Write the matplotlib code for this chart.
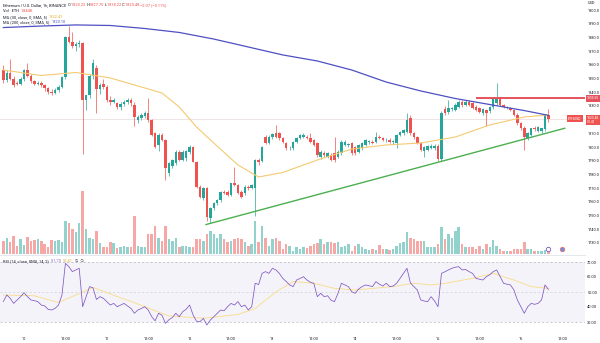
import numpy as np
import pandas as pd
import matplotlib
matplotlib.use('Agg')
import matplotlib.pyplot as plt
import matplotlib.dates as mdates

plt.rcParams['font.family'] = ['Roboto', 'DejaVu Sans']

# ETHUSD (Binance) 1h candles, 9 May 18:00 -> 16 May 08:00 2023
times = pd.date_range('2023-05-09 18:00', periods=159, freq='h')

opens = [
    1856, 1849, 1854, 1850, 1847, 1846, 1849.5, 1856, 1852, 1848,
    1846, 1846.8, 1845, 1842.8, 1840.5, 1839.5, 1841.6, 1844, 1851, 1880,
    1877, 1873.5, 1875, 1876, 1834.3, 1838, 1852, 1858, 1842, 1846,
    1844, 1834.3, 1833, 1831.9, 1829.4, 1831.5, 1833, 1834.3, 1831,
    1819.7, 1821.5, 1822.5, 1824.6, 1819.7, 1810, 1801.5, 1808.8, 1805.1, 1781,
    1786, 1788, 1796.6, 1790.5, 1792, 1796.6, 1800.2, 1789.3, 1771.1, 1762.5,
    1769.8, 1747.9, 1755.2, 1758.9, 1761.3, 1767.4, 1767.4, 1765, 1773.5, 1772.3,
    1767.4, 1766.2, 1771.1, 1770, 1770, 1790.5, 1790, 1807, 1803, 1807,
    1810, 1810, 1806.3, 1802.7, 1799, 1799, 1803.9, 1806.3, 1807.5, 1807.5,
    1806.3, 1805.1, 1802.7, 1792.9, 1795.4, 1792.9, 1794.2, 1795.4, 1792.9, 1795.4,
    1801.5, 1801.5, 1802.7, 1800.2, 1796.6, 1799, 1801.5, 1803.9, 1803.9, 1803.9,
    1807.5, 1806.3, 1805.1, 1805.1, 1803.9, 1802.7, 1808.8, 1810, 1811.2, 1820.9,
    1810, 1807.5, 1803, 1797, 1798, 1799.5, 1799.5, 1800.5, 1791, 1828,
    1825.8, 1828, 1827, 1829.4, 1833.1, 1830.7, 1833.1, 1831.9, 1829.4, 1828.2,
    1824.6, 1827, 1826, 1829, 1832, 1835.5, 1830.7, 1829, 1828.2, 1827,
    1823.5, 1817.3, 1814, 1806.5, 1808.8, 1813.6, 1811.8, 1812, 1813, 1823.22,
]
highs = [
    1860, 1856, 1864, 1851.5, 1848, 1851, 1857, 1861, 1853, 1849,
    1848, 1848, 1846, 1844, 1842, 1843, 1845, 1852, 1881, 1888,
    1884, 1876.5, 1878, 1877, 1838, 1853, 1864, 1860, 1847, 1850,
    1845, 1837, 1836, 1833, 1833, 1834, 1836, 1836, 1832.5,
    1823, 1825, 1826.5, 1835.5, 1820.5, 1811, 1810, 1810.5, 1806, 1789,
    1791.5, 1797.5, 1798, 1797.5, 1798, 1801.5, 1801, 1790, 1772, 1771,
    1771, 1756.5, 1759.5, 1762, 1768, 1768.5, 1768.5, 1774, 1785.6, 1773,
    1768.5, 1772, 1772, 1773, 1791, 1792, 1801, 1809, 1809, 1810.5,
    1816, 1811, 1807.5, 1804, 1800.5, 1804.5, 1807, 1809.5, 1810, 1809,
    1810, 1806, 1803.5, 1798, 1797, 1796.5, 1795.5, 1807.5, 1797.5, 1805,
    1805, 1803, 1804, 1801, 1802, 1803.5, 1806, 1805, 1805, 1811.2,
    1809, 1807.5, 1806.5, 1806.3, 1805, 1809.5, 1812, 1813.5, 1824.6, 1823,
    1811, 1808, 1804, 1801, 1801.5, 1802, 1802, 1802, 1826, 1830,
    1834.3, 1829.5, 1832, 1834, 1834.5, 1834.5, 1834, 1833, 1830.5, 1829,
    1828.5, 1828, 1830, 1836, 1846.5, 1836.5, 1831.5, 1830, 1829, 1828,
    1825, 1818, 1815, 1811, 1814, 1815, 1815.5, 1814, 1824, 1827.70,
]
lows = [
    1847, 1847.5, 1849, 1844, 1845, 1845, 1848.5, 1851, 1847, 1845,
    1845, 1844, 1841, 1839, 1838, 1838.5, 1840, 1843, 1850, 1876,
    1872, 1870, 1873, 1795, 1827, 1836, 1850, 1824.5, 1839, 1842,
    1833, 1831, 1832, 1828, 1827, 1830, 1831.5, 1830, 1815,
    1817.5, 1820, 1821.5, 1818.5, 1808, 1799, 1797, 1804.5, 1776, 1779,
    1784.5, 1787, 1789.5, 1789.5, 1790, 1795, 1789, 1770, 1762.5, 1761.5,
    1746, 1744.3, 1754, 1757.5, 1760, 1765.5, 1764, 1764, 1771.5, 1766,
    1763, 1765, 1768.5, 1769, 1750, 1787, 1789, 1802, 1802, 1806,
    1806.5, 1805, 1803, 1798, 1797.5, 1798, 1803, 1805.5, 1806.5, 1805.5,
    1803, 1800.5, 1793, 1791.5, 1793, 1792, 1789.5, 1789, 1792, 1794.5,
    1800.5, 1800, 1794.5, 1794.5, 1795.5, 1798, 1800.5, 1802.5, 1802, 1803,
    1805.5, 1804.5, 1804, 1803, 1802.5, 1799, 1808, 1809, 1810, 1809,
    1806, 1802, 1797, 1793, 1797, 1798.5, 1798, 1790, 1790, 1823,
    1824, 1826.5, 1826, 1828.5, 1829.5, 1830, 1830, 1827.5, 1826, 1825,
    1823.5, 1815, 1824.5, 1828, 1831, 1830, 1828.5, 1827.5, 1826, 1822.5,
    1816, 1812.5, 1798, 1805, 1808, 1812, 1811, 1810.5, 1812, 1818.22,
]
closes = [
    1849, 1854, 1850, 1845, 1846, 1849.5, 1856, 1852, 1848, 1846,
    1846.8, 1845, 1842.8, 1840.5, 1839.5, 1841.6, 1844, 1851, 1880, 1877,
    1873.5, 1875, 1876, 1834.3, 1838, 1852, 1861, 1842, 1845.5, 1843.5,
    1834.3, 1833.1, 1834, 1829.4, 1831.5, 1833, 1834.3, 1831.9, 1822,
    1822.1, 1823.4, 1824.6, 1819.7, 1808.8, 1800.2, 1808.8, 1805.1, 1784.4, 1788,
    1790.5, 1796.6, 1790.5, 1796.6, 1797, 1800.2, 1789.3, 1771.1, 1763.7, 1769.8,
    1749.1, 1755.2, 1758.9, 1761.3, 1767.4, 1766.2, 1765, 1773.5, 1772.3, 1766.2,
    1763.7, 1771.1, 1769.8, 1772.3, 1790.5, 1789.3, 1800, 1803, 1807.5, 1809.5,
    1807.5, 1806.3, 1803.9, 1799, 1799.5, 1803.9, 1806.3, 1808.8, 1808.8, 1806.3,
    1803.9, 1801.5, 1794.2, 1796.6, 1794.2, 1795.4, 1790.5, 1790.5, 1796.6, 1803.9,
    1803.9, 1802, 1795.4, 1795.4, 1801.5, 1802.7, 1805.1, 1804.2, 1802.7, 1807.5,
    1806.3, 1805.1, 1805.4, 1803.9, 1804.2, 1808.8, 1811.2, 1812.4, 1819.7, 1810,
    1807.5, 1803, 1798, 1800, 1800.5, 1801, 1801, 1791, 1825, 1824.6,
    1828.2, 1828.5, 1830.7, 1833.1, 1830.7, 1833.1, 1830.7, 1828.2, 1827, 1825.8,
    1827.5, 1824.6, 1829.4, 1835.5, 1835.5, 1830.7, 1829, 1829.3, 1827, 1823.5,
    1817.3, 1813.6, 1807.5, 1810, 1813.6, 1813, 1814.4, 1813.6, 1823.22, 1820.48,
]
# volume, thousands of ETH
volumes = [
    3.6, 4.5, 3.2, 5.0, 2.3, 4.1, 2.5, 4.7, 3.6, 3.8,
    4.1, 3.5, 2.7, 1.8, 3.8, 3.6, 3.8, 3.2, 9.1, 8.5,
    6.8, 5.9, 8.6, 17.3, 6.8, 4.5, 4.1, 6.4, 2.9, 1.8,
    2.0, 3.2, 2.9, 1.6, 1.8, 2.3, 1.8, 1.8, 10.5,
    2.3, 2.0, 1.8, 5.5, 5.5, 7.7, 4.5, 3.6, 7.7, 4.1,
    3.6, 4.5, 1.8, 2.3, 2.2, 1.8, 2.0, 4.1, 4.1, 3.6,
    5.5, 6.4, 5.5, 4.5, 5.5, 4.1, 3.2, 3.6, 4.1, 4.5,
    4.1, 3.2, 2.3, 2.7, 9.1, 3.2, 7.7, 4.5, 2.3, 4.1,
    4.5, 3.6, 1.4, 2.7, 2.3, 0.9, 1.8, 1.4, 1.8, 1.6,
    2.3, 2.7, 2.9, 4.1, 2.7, 3.2, 3.2, 2.9, 3.2, 1.8,
    2.3, 2.7, 0.9, 2.3, 2.7, 1.8, 1.3, 1.1, 1.4, 1.1,
    2.5, 1.5, 1.4, 1.1, 1.4, 2.3, 2.9, 3.2, 5.9, 4.5,
    4.1, 3.5, 3.6, 3.6, 2.0, 2.0, 1.8, 2.7, 7.3, 4.1,
    5.5, 4.5, 6.4, 7.3, 2.7, 1.8, 2.0, 1.8, 1.5, 2.3,
    1.4, 2.7, 1.8, 3.8, 2.3, 1.4, 0.9, 0.9, 0.9, 1.4,
    1.5, 1.5, 3.2, 1.4, 1.3, 0.9, 0.7, 0.9, 1.1, 1.844,
]
rsi = [
    43.6, 48, 45.8, 42.4, 44.7, 46.9, 49.5, 46.9, 44.7, 44.2,
    43.6, 41.3, 40.7, 38.4, 38, 39.1, 41.3, 48, 69.1, 66.9,
    63.6, 64.7, 65.8, 40.2, 46.9, 53.6, 52.7, 45, 46.9, 45.8,
    43.6, 41.3, 42.4, 40.2, 41.3, 42.4, 40.7, 39.1, 35.8,
    38, 39, 40.2, 38, 33.6, 30.8, 35.8, 34.5, 29.1, 31.5,
    33, 35.8, 33.5, 36.9, 38.5, 41.3, 34.7, 30.5, 30.2, 32.4,
    28, 31.3, 33.5, 35.8, 38, 37.5, 40.2, 42.4, 41.3, 43.6,
    40.2, 41.3, 38, 40.2, 55.8, 55, 62.4, 63.6, 62.4, 65.8,
    64.7, 62.4, 59.1, 57, 54.7, 53.6, 58, 59, 60.2, 58,
    56.5, 55.8, 46.9, 49.1, 46.9, 47.5, 44.5, 43.6, 49.1, 55.8,
    54.7, 53.6, 50.2, 49.1, 52, 53.6, 54.7, 54.2, 53.6, 56.9,
    55.2, 54, 55.8, 53.6, 54, 55.8, 59.1, 62.4, 65.8, 56,
    53.6, 51.3, 44.7, 44, 43.6, 46.9, 44, 40.2, 62.4, 63.5,
    64.7, 65.8, 66.5, 66.9, 64.7, 65, 63.6, 62.4, 59.1, 58.5,
    58, 60.2, 61.5, 63.6, 64.7, 60.2, 55.8, 55.2, 54.7, 51.3,
    44.7, 40.2, 35.8, 40.2, 42.4, 41.8, 42.4, 44.7, 54.7, 51.73,
]

# moving averages at some candles (index into times)
ma30_at = [0, 11, 21, 31, 41, 46, 51, 56, 61, 68, 74, 81, 91, 101, 111, 121, 131, 141, 151, 158]
ma30_vals = [1856.2, 1852.2, 1854.4, 1850.4, 1843.1, 1839.4, 1829.2, 1814.6, 1802.9, 1786.9,
             1778.1, 1781.4, 1790.5, 1798.5, 1801.5, 1802.9, 1807.3, 1816.1, 1821.9, 1823.4]
ma200_at = [0, 11, 21, 31, 41, 51, 61, 71, 81, 91, 101, 111, 121, 131, 141, 151, 158]
ma200_vals = [1887.2, 1888.3, 1889.1, 1888.7, 1886.5, 1883.6, 1878.8, 1873.0, 1867.2,
              1862.8, 1856.2, 1847.4, 1840.9, 1835.4, 1831.0, 1826.6, 1823.1]
rsi_ma_at = [0, 9, 16, 21, 26, 33, 39, 48, 58, 68, 73, 79, 84, 90, 96, 102, 107, 113,
             119, 124, 128, 136, 142, 148, 153, 158]
rsi_ma_vals = [48, 47.5, 43, 48, 53, 47, 42, 34, 32.5, 35, 39, 50, 57, 55.8, 52.4, 51.3,
               52.4, 53.6, 55.8, 54.7, 55.8, 59.1, 62.4, 58, 53.6, 52.4]

# user drawings
trend_times = ['2023-05-12 04:45', '2023-05-16 12:45']
trend_prices = [1743.4, 1813.7]
level_start = '2023-05-15 11:00'
level_price = 1835.55
last_close = 1820.48

price_ticks = [1730, 1740, 1750, 1760, 1770, 1780, 1790, 1800, 1810,
               1830, 1840, 1850, 1860, 1870, 1880, 1890, 1900]
rsi_ticks = [30, 40, 50, 60, 70]
time_ticks = pd.date_range('2023-05-10', periods=14, freq='12h')
time_labels = ['10', '12:00', '11', '12:00', '12', '12:00', '13', '12:00',
               '14', '12:00', '15', '12:00', '16', '12:00']

UP = '#26a69a'
DOWN = '#ef5350'
TXT = '#131722'
FS = 2.9

W, H = 600, 343
fig = plt.figure(figsize=(6, 3.43), dpi=100)


def rect(x0, y0, x1, y1):
    return [x0 / W, 1 - y1 / H, (x1 - x0) / W, (y1 - y0) / H]


def fpos(x, y):
    return x / W, 1 - y / H


ax = fig.add_axes(rect(0, 0, 585, 254))
axr = fig.add_axes(rect(0, 256, 585, 331), sharex=ax)
axv = ax.twinx()

x = mdates.date2num(times)
o, hi, lo, c = map(np.array, (opens, highs, lows, closes))
col = np.where(c >= o, UP, DOWN)
w = 0.72 / 24

# volume behind candles
axv.bar(x, volumes, width=w, color=col, alpha=0.5, lw=0)
axv.set_ylim(0, 69.7)
axv.axis('off')
ax.set_zorder(axv.get_zorder() + 1)
ax.patch.set_visible(False)

ax.axhline(last_close, color='#ead8d8', lw=0.5, zorder=1)
ax.vlines(x, lo, hi, colors=col, lw=0.5, zorder=3)
ax.bar(x, np.maximum(np.abs(c - o), 0.3), width=w, bottom=np.minimum(o, c),
       color=col, lw=0, zorder=4)

ax.plot(x[ma30_at], ma30_vals, color='#f4ca72', lw=0.8, zorder=5)
ax.plot(x[ma200_at], ma200_vals, color='#4e50c4', lw=0.9, zorder=5)

day10 = mdates.date2num(pd.Timestamp('2023-05-10'))
xmin, xmax = day10 - 6.96 / 24, day10 + 162.6 / 24
ax.plot(mdates.date2num(pd.to_datetime(trend_times)), trend_prices,
        color='#4caf50', lw=1.0, zorder=6)
ax.hlines(level_price, mdates.date2num(pd.Timestamp(level_start)), xmax,
          color='#e5535c', lw=1.4, zorder=6)

ax.set_xlim(xmin, xmax)
ax.set_ylim(1721.9, 1907.3)
ax.yaxis.tick_right()
ax.set_yticks(price_ticks)
ax.set_yticklabels([f'{v:.1f}' for v in price_ticks])
ax.tick_params(axis='y', length=0, pad=1.6, labelsize=2.8, labelcolor=TXT)
ax.tick_params(axis='x', length=0, labelbottom=False)
for s in ax.spines.values():
    s.set_visible(False)

# RSI pane
axr.axhspan(30, 70, color='#7e57c2', alpha=0.07, lw=0)
for lvl, a in ((70, 0.7), (50, 0.4), (30, 0.7)):
    axr.axhline(lvl, color='#9598a1', lw=0.5, ls=(0, (3, 3)), alpha=a)
axr.plot(x[rsi_ma_at], rsi_ma_vals, color='#f6df95', lw=0.7)
axr.plot(x, rsi, color='#7e57c2', lw=0.55)
axr.set_ylim(24, 74)
axr.yaxis.tick_right()
axr.set_yticks(rsi_ticks)
axr.set_yticklabels([f'{v:.2f}' for v in rsi_ticks])
axr.set_xticks(mdates.date2num(time_ticks))
axr.set_xticklabels(time_labels)
axr.tick_params(axis='y', length=0, pad=1.6, labelsize=2.8, labelcolor=TXT)
axr.tick_params(axis='x', length=0, pad=4.2, labelsize=FS, labelcolor=TXT)
for s in axr.spines.values():
    s.set_visible(False)

fig.add_artist(plt.Line2D([0, 585 / W], [1 - 255 / H] * 2, color='#e0e3eb', lw=0.6))

# legends
renderer = fig.canvas.get_renderer()


def legend_line(x0, y0, parts):
    xp = x0
    for s, colr in parts:
        t = fig.text(*fpos(xp, y0), s, color=colr, fontsize=FS, va='center', ha='left')
        xp += t.get_window_extent(renderer=renderer).width


legend_line(3, 5, [('Ethereum / U.S. Dollar, 1h, BINANCE  ', TXT), ('O', TXT), ('1823.22 ', DOWN),
                   ('H', TXT), ('1827.70 ', DOWN), ('L', TXT), ('1818.22 ', DOWN),
                   ('C', TXT), ('1820.48 ', DOWN), ('\u22122.07 (\u22120.11%)', DOWN)])
legend_line(3, 10.8, [('Vol \u00b7 ETH  ', TXT), ('1.844K', DOWN)])
legend_line(3, 16.6, [('MA (30, close, 0, SMA, 5)  ', TXT), ('1822.41', '#e3ad2b')])
legend_line(3, 22.4, [('MA (200, close, 0, SMA, 5)  ', TXT), ('1823.10', '#4e50c4')])
legend_line(3, 261, [('RSI (14, close, SMA, 14, 2)  ', TXT), ('51.73  ', '#7e57c2'),
                     ('52.41', '#e3ad2b'), ('  \u2205  \u2205', TXT)])

# price scale labels
fig.text(*fpos(587.5, 3.5), 'USD', fontsize=FS, color=TXT, va='center')
fig.text(*fpos(587, 98.3), f'{level_price:.2f}', fontsize=2.4, color='white', va='center',
         bbox=dict(boxstyle='square,pad=0.4', fc='#e5535c', ec='none'))
fig.text(*fpos(587, 120), f'{last_close:.2f}\n00:41', fontsize=2.4, color='white',
         va='center', linespacing=1.1,
         bbox=dict(boxstyle='square,pad=0.4', fc=DOWN, ec='none'))
fig.text(*fpos(568, 118.5), 'ETHUSD', fontsize=2.6, color='white', va='center',
         bbox=dict(boxstyle='square,pad=0.35', fc=DOWN, ec='none'))

# event markers near the bottom right
fig.add_artist(plt.Line2D([548 / W], [1 - 249 / H], marker='o', ms=3.2, mfc='white',
                          mec='#7e57c2', mew=0.6))
fig.add_artist(plt.Line2D([562 / W], [1 - 249 / H], marker='o', ms=3.2, mfc='#6d8fd8',
                          mec='#e57373', mew=0.6))

fig.savefig('out.png', dpi=100, facecolor='white')
